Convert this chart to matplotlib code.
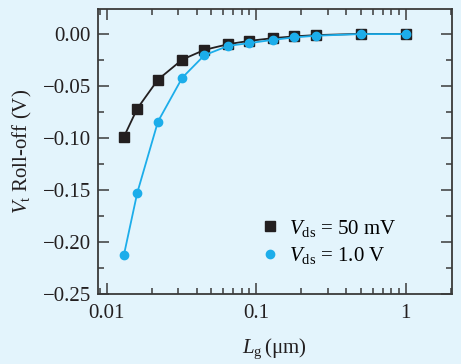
import numpy as np
import matplotlib
matplotlib.use("Agg")
import matplotlib.pyplot as plt
from matplotlib.lines import Line2D
from matplotlib.ticker import LogLocator, MultipleLocator, FixedLocator, NullFormatter


# -----------------------------
# Data
# -----------------------------

gate_length = [0.013, 0.016, 0.022, 0.032, 0.045, 0.065, 0.09, 0.13, 0.18, 0.25, 0.5, 1.0]

rolloff_50mV = [-0.099, -0.0716, -0.0438, -0.0245, -0.0152, -0.0097,
                -0.0065, -0.0039, -0.0022, -0.0010, 0.0002, 0.0]

rolloff_1V = [-0.2128, -0.1525, -0.0841, -0.0419, -0.0203, -0.0113,
              -0.0087, -0.0055, -0.0032, -0.0016, 0.0, 0.0]

y_ticks = [0.00, -0.05, -0.10, -0.15, -0.20, -0.25]
y_tick_labels = ["0.00", "\u22120.05", "\u22120.10", "\u22120.15", "\u22120.20", "\u22120.25"]
x_ticks = [0.01, 0.1, 1]
x_tick_labels = ["0.01", "0.1", "1"]


# -----------------------------
# Style
# -----------------------------

bg = "#e3f4fc"
black = "#231f20"
cyan = "#1cadea"

plt.rcParams["font.family"] = ["Liberation Serif", "DejaVu Serif"]
plt.rcParams["mathtext.fontset"] = "custom"
plt.rcParams["mathtext.rm"] = "Liberation Serif"
plt.rcParams["mathtext.it"] = "Liberation Serif:italic"

fig = plt.figure(figsize=(4.61, 3.64), dpi=100, facecolor=bg)
ax = fig.add_axes([0.212, 0.192, 0.768, 0.783], facecolor=bg)

ax.plot(gate_length, rolloff_50mV, color=black, marker="s", markersize=6.5,
        linewidth=1.3, zorder=3)
ax.plot(gate_length, rolloff_1V, color=cyan, marker="o", markersize=6,
        linewidth=1.3, zorder=4)

ax.set_xscale("log")
ax.set_xlim(0.0087, 2.03)
ax.set_ylim(-0.25, 0.024)

ax.xaxis.set_major_locator(FixedLocator(x_ticks))
ax.set_xticklabels(x_tick_labels)
ax.xaxis.set_minor_locator(LogLocator(base=10, subs=np.arange(2, 10)))
ax.xaxis.set_minor_formatter(NullFormatter())

ax.set_yticks(y_ticks)
ax.set_yticklabels(y_tick_labels)
ax.yaxis.set_minor_locator(MultipleLocator(0.025))

ax.tick_params(which="both", direction="in", top=True, right=True,
               color="#3a3a3a", labelsize=15, labelcolor=black)
ax.tick_params(which="major", length=8, width=1.1)
ax.tick_params(axis="x", which="major", pad=7)
ax.tick_params(axis="y", which="major", pad=5)
ax.tick_params(which="minor", length=4.5, width=1.1)

for s in ax.spines.values():
    s.set_color("#3a3a3a")
    s.set_linewidth(1.3)

ax.set_xlabel("$L_{\\rm g}\\,$(\u03bcm)", fontsize=15, color=black, labelpad=10)
ax.set_ylabel(r"$V_{\rm t}$ Roll-off (V)", fontsize=15, color=black, labelpad=6)

handles = [
    Line2D([], [], color=black, marker="s", markersize=6.5, linestyle="none"),
    Line2D([], [], color=cyan, marker="o", markersize=6, linestyle="none"),
]
labels = [r"$V_{\rm ds}$ = 50 mV", r"$V_{\rm ds}$ = 1.0 V"]
ax.legend(handles, labels, loc="upper left", bbox_to_anchor=(0.435, 0.305),
          frameon=False, fontsize=15, handlelength=0.8, handletextpad=0.5,
          labelspacing=0.3, borderpad=0.0)

fig.savefig("out.png", dpi=100, facecolor=bg)
